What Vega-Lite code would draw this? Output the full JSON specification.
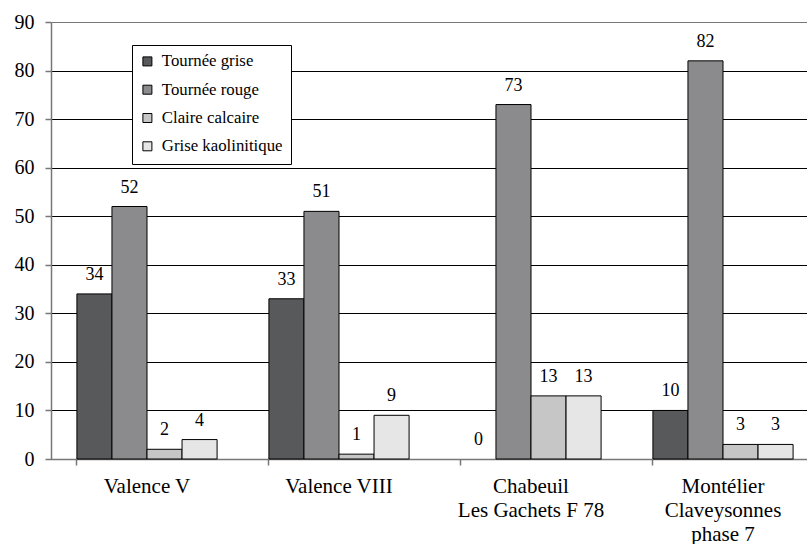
{
  "$schema": "https://vega.github.io/schema/vega-lite/v6.json",
  "width": 756,
  "height": 437,
  "autosize": {"type": "none"},
  "padding": {"left": 51, "top": 22, "right": 0, "bottom": 85},
  "background": "white",
  "config": {
    "view": {"stroke": null},
    "font": "Liberation Serif",
    "axis": {"labelFont": "Liberation Serif"},
    "legend": {"labelFont": "Liberation Serif"},
    "text": {"font": "Liberation Serif"}
  },
  "data": {
    "values": [
      {"site": "Valence V", "type": "Tournée grise", "value": 34},
      {"site": "Valence V", "type": "Tournée rouge", "value": 52},
      {"site": "Valence V", "type": "Claire calcaire", "value": 2},
      {"site": "Valence V", "type": "Grise kaolinitique", "value": 4},
      {"site": "Valence VIII", "type": "Tournée grise", "value": 33},
      {"site": "Valence VIII", "type": "Tournée rouge", "value": 51},
      {"site": "Valence VIII", "type": "Claire calcaire", "value": 1},
      {"site": "Valence VIII", "type": "Grise kaolinitique", "value": 9},
      {"site": "Chabeuil|Les Gachets F 78", "type": "Tournée grise", "value": 0},
      {"site": "Chabeuil|Les Gachets F 78", "type": "Tournée rouge", "value": 73},
      {"site": "Chabeuil|Les Gachets F 78", "type": "Claire calcaire", "value": 13},
      {"site": "Chabeuil|Les Gachets F 78", "type": "Grise kaolinitique", "value": 13},
      {"site": "Montélier|Claveysonnes|phase 7", "type": "Tournée grise", "value": 10},
      {"site": "Montélier|Claveysonnes|phase 7", "type": "Tournée rouge", "value": 82},
      {"site": "Montélier|Claveysonnes|phase 7", "type": "Claire calcaire", "value": 3},
      {"site": "Montélier|Claveysonnes|phase 7", "type": "Grise kaolinitique", "value": 3}
    ]
  },
  "encoding": {
    "x": {
      "field": "site",
      "type": "nominal",
      "sort": null,
      "scale": {"range": [0, 768], "paddingInner": 0.27, "paddingOuter": 0.135},
      "axis": {
        "title": null,
        "labelAngle": 0,
        "labelExpr": "split(datum.label, '|')",
        "labelFontSize": 21,
        "labelColor": "#000",
        "labelLineHeight": 24,
        "labelBaseline": "top",
        "labelPadding": 10,
        "bandPosition": 0,
        "tickSize": 6,
        "tickColor": "#777",
        "tickWidth": 1.5,
        "domainColor": "#777",
        "domainWidth": 1.5,
        "grid": false
      }
    },
    "xOffset": {
      "field": "type",
      "type": "nominal",
      "scale": {"domain": ["Tournée grise", "Tournée rouge", "Claire calcaire", "Grise kaolinitique"], "paddingInner": 0, "paddingOuter": 0}
    },
    "y": {
      "field": "value",
      "type": "quantitative",
      "scale": {"domain": [0, 90], "nice": false},
      "axis": {
        "title": null,
        "values": [0, 10, 20, 30, 40, 50, 60, 70, 80, 90],
        "labelFontSize": 20,
        "labelColor": "#000",
        "labelPadding": 11,
        "tickSize": 6,
        "tickColor": "#777",
        "tickWidth": 1.5,
        "domainColor": "#777",
        "domainWidth": 1.5,
        "grid": true,
        "gridColor": {"condition": {"test": "datum.value == 90", "value": "#777"}, "value": "#000"},
        "gridWidth": 1,
        "gridOpacity": 1
      }
    }
  },
  "layer": [
    {
      "mark": {"type": "bar", "stroke": "#000", "strokeWidth": 1},
      "encoding": {
        "color": {
          "field": "type",
          "type": "nominal",
          "scale": {
            "domain": ["Tournée grise", "Tournée rouge", "Claire calcaire", "Grise kaolinitique"],
            "range": ["#58595b", "#8b8b8d", "#c6c6c6", "#e6e6e7"]
          },
          "legend": {
            "title": null,
            "orient": "none",
            "legendX": 81,
            "legendY": 23,
            "padding": 8,
            "fillColor": "white",
            "strokeColor": "#000",
            "symbolType": "square",
            "symbolSize": 81,
            "symbolOffset": -1,
            "symbolStrokeColor": "#000",
            "symbolStrokeWidth": 1,
            "symbolOpacity": 1,
            "labelFontSize": 16.8,
            "labelColor": "#000",
            "labelOffset": 6,
            "rowPadding": 10.3
          }
        },
        "strokeOpacity": {"condition": {"test": "datum.value == 0", "value": 0}, "value": 1}
      }
    },
    {
      "mark": {"type": "text", "baseline": "alphabetic", "dy": -14, "fontSize": 18, "color": "#000"},
      "encoding": {
        "text": {"field": "value", "type": "quantitative"}
      }
    }
  ]
}
